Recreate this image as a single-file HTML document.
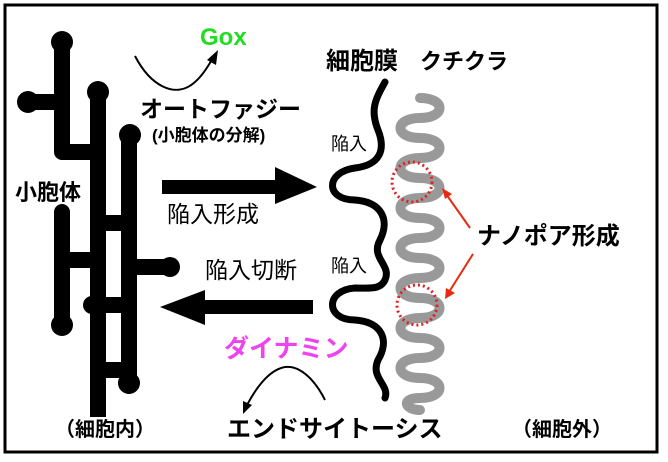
<!DOCTYPE html>
<html><head><meta charset="utf-8"><style>
html,body{margin:0;padding:0;background:#fff}
body{width:668px;height:462px;position:relative;overflow:hidden;font-family:"Liberation Sans","Noto Sans CJK JP",sans-serif}
.t{position:absolute;white-space:nowrap;line-height:1;color:#000}
.b{font-weight:bold}
</style></head><body>
<svg width="668" height="462" style="position:absolute;left:0;top:0">
<rect x="5" y="5" width="652" height="447" fill="none" stroke="#000" stroke-width="3"/>
<!-- ER -->
<g stroke="#000" stroke-width="16" stroke-linecap="round" stroke-linejoin="round" fill="none">
<path d="M62,42 L62,152 L98,152"/>
<path d="M28,102 L62,102"/>
<path d="M98,92 L98,400"/>
<path d="M129,135 L129,383"/>
<path d="M98,223 L129,223"/>
<path d="M129,267 L170,267"/>
<path d="M62,212 L62,325"/>
<path d="M62,260 L98,260"/>
<path d="M92,305 L129,305"/>
<path d="M98,370 L129,370"/>
</g>
<rect x="90" y="395" width="16" height="22" fill="#000"/>
<g fill="#000"><circle cx="62" cy="42" r="11"/><circle cx="28" cy="102" r="11"/><circle cx="98" cy="92" r="11"/><circle cx="130" cy="135" r="11"/><circle cx="170" cy="267" r="10"/><circle cx="62" cy="325" r="11"/><circle cx="129" cy="383" r="11"/><circle cx="92" cy="305" r="9"/></g>
<!-- membrane -->
<path d="M385,82 C375,100 370,110 378,130 C386,150 380,165 355,168 C325,172 325,200 355,200 C382,202 390,220 380,240 C370,258 392,265 385,280 C380,290 370,288 355,288 C325,290 325,320 355,320 C382,322 390,340 378,360 C370,378 390,385 385,398" fill="none" stroke="#000" stroke-width="7" stroke-linecap="round"/>
<!-- cuticle -->
<path d="M420,98 C446,98 446,118 420,118 C394,118 394,138 420,138 C446,138 446,158 420,158 C394,158 394,178 420,178 C446,178 446,198 420,198 C394,198 394,218 420,218 C446,218 446,238 420,238 C394,238 394,258 420,258 C446,258 446,278 420,278 C394,278 394,298 420,298 C446,298 446,318 420,318 C394,318 394,338 420,338 C446,338 446,358 420,358 C394,358 394,378 420,378 C446,378 446,398 420,398 C400,398 405,410 420,410" fill="none" stroke="#999" stroke-width="10" stroke-linecap="round"/>
<circle cx="412" cy="182" r="20" fill="none" stroke="#e02020" stroke-width="3" stroke-dasharray="2 3"/>
<circle cx="417" cy="305" r="20" fill="none" stroke="#e02020" stroke-width="3" stroke-dasharray="2 3"/>
<g stroke="#e82a10" stroke-width="2" fill="#e82a10">
<line x1="470" y1="228" x2="446" y2="194"/><polygon points="442,188 452,194 445,199" stroke="none"/>
<line x1="473" y1="254" x2="449" y2="292"/><polygon points="445,299 446,288 455,293" stroke="none"/>
</g>
<!-- arrows -->
<rect x="162" y="180" width="118" height="14" fill="#000"/>
<polygon points="275,167 317,187 275,204" fill="#000"/>
<rect x="200" y="300" width="113" height="14" fill="#000"/>
<polygon points="205,290 160,307 205,325" fill="#000"/>
<path d="M135,56 C150,85 175,100 195,82 C203,75 208,66 213,58" fill="none" stroke="#000" stroke-width="2"/>
<polygon points="218,50 207,60 216,65" fill="#000"/>
<path d="M325,400 C315,380 300,365 285,367 C268,370 255,390 247,405" fill="none" stroke="#000" stroke-width="2"/>
<polygon points="243,414 243,401 252,405" fill="#000"/>
</svg>
<div class="t b" style="left:200px;top:26px;font-size:24px;color:#22dd22">Gox</div>
<div class="t b" style="left:140px;top:98px;font-size:23px">オートファジー</div>
<div class="t b" style="left:152px;top:127px;font-size:17px">(小胞体の分解)</div>
<div class="t b" style="left:15px;top:182px;font-size:22px">小胞体</div>
<div class="t" style="left:167px;top:203px;font-size:23px">陥入形成</div>
<div class="t" style="left:205px;top:259px;font-size:23px">陥入切断</div>
<div class="t" style="left:331px;top:135px;font-size:18px">陥入</div>
<div class="t" style="left:331px;top:257px;font-size:18px">陥入</div>
<div class="t b" style="left:326px;top:50px;font-size:24px">細胞膜</div>
<div class="t b" style="left:420px;top:51px;font-size:22px">クチクラ</div>
<div class="t b" style="left:477px;top:225px;font-size:24px">ナノポア形成</div>
<div class="t b" style="left:224px;top:337px;font-size:25px;color:#ee44ee">ダイナミン</div>
<div class="t b" style="left:227px;top:418px;font-size:24px">エンドサイトーシス</div>
<div class="t b" style="left:55px;top:420px;font-size:20px">（細胞内）</div>
<div class="t b" style="left:512px;top:420px;font-size:20px">（細胞外）</div>
</body></html>
